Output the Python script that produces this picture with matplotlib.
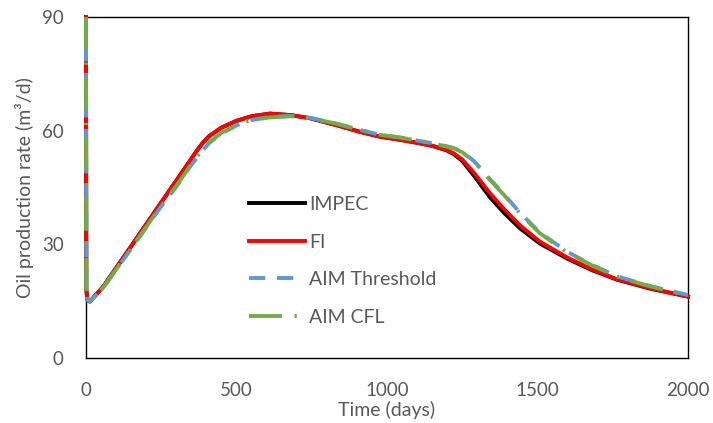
import matplotlib.pyplot as plt

# time (days) and oil production rate (m3/d) for each scheme
t = [0, 1, 5, 13, 57, 157, 246, 300, 345, 370, 390, 410, 450, 500, 550, 611, 680,
     744, 830, 910, 977, 1043, 1100, 1150, 1198, 1222, 1250, 1290, 1342, 1390,
     1442, 1508, 1597, 1680, 1763, 1874, 2000]
q_fi = [90, 18, 15.3, 14.9, 18.8, 30.3, 40.6, 46.8, 52.0, 54.9, 57.0, 58.6,
        60.8, 62.6, 63.8, 64.5, 64.1, 63.3, 61.5, 59.7, 58.4, 57.6, 56.8, 56.0,
        54.9, 54.0, 52.4, 48.8, 43.5, 39.2, 35.0, 30.7, 26.6, 23.4, 20.8, 18.4, 16.2]
q_impec = [90, 18, 15.3, 14.9, 18.8, 30.3, 40.6, 46.8, 52.0, 54.9, 57.0, 58.6,
           60.8, 62.6, 63.8, 64.5, 64.1, 63.3, 61.5, 59.7, 58.4, 57.6, 56.8, 56.0,
           54.8, 53.8, 52.0, 48.0, 42.4, 38.2, 34.2, 30.2, 26.3, 23.2, 20.7, 18.3, 16.2]
q_aim_thr = [90, 18, 15.3, 14.9, 18.5, 29.6, 39.6, 45.2, 50.4, 53.0, 55.0, 56.8,
             59.2, 61.4, 62.8, 63.6, 63.9, 63.4, 61.9, 60.2, 58.9, 58.2, 57.4,
             56.7, 55.9, 55.4, 54.4, 51.9, 47.2, 43.1, 38.3, 33.1, 28.1, 24.6,
             21.6, 19.0, 16.6]
q_aim_cfl = [90, 18, 15.3, 14.9, 18.6, 29.7, 39.8, 45.4, 50.6, 53.2, 55.2, 57.0,
             59.4, 61.5, 62.9, 63.5, 63.8, 63.3, 61.9, 60.2, 58.9, 58.2, 57.4,
             56.7, 55.8, 55.3, 54.3, 51.8, 47.0, 42.9, 38.1, 32.9, 27.9, 24.5,
             21.5, 18.9, 16.5]

labels = ['IMPEC', 'FI', 'AIM Threshold', 'AIM CFL']
colors = ['black', '#FF0000', '#5B9BD5', '#70AD47']

plt.rcParams['font.family'] = ['Lato', 'DejaVu Sans']
fs = 14
grey = '#595959'

fig = plt.figure(figsize=(7.13, 4.23), dpi=100)
ax = fig.add_axes([0.1206, 0.1537, 0.8444, 0.8061])

lw = 2.8
kw = dict(lw=lw, zorder=3, clip_on=False, solid_joinstyle='round')
ax.plot(t, q_impec, color=colors[0], label=labels[0], **kw)
ax.plot(t, q_fi, color=colors[1], label=labels[1], **kw)
ax.plot(t, q_aim_thr, color=colors[2], ls=(0, (4.2, 3.0)), label=labels[2], **kw)
ax.plot(t, q_aim_cfl, color=colors[3], ls=(0, (8.5, 3.2, 0.6, 3.2)),
        label=labels[3], **kw)

ax.set_xlim(0, 2000)
ax.set_ylim(0, 90)
ax.set_xticks([0, 500, 1000, 1500, 2000])
ax.set_yticks([0, 30, 60, 90])
ax.tick_params(length=0, labelsize=fs - 0.5, labelcolor=grey)
ax.tick_params(axis='x', pad=17.5)
ax.tick_params(axis='y', pad=16)
for s in ax.spines.values():
    s.set_color('black')
    s.set_linewidth(1.0)

ax.set_xlabel('Time (days)', fontsize=fs, color=grey, labelpad=1.5)
ax.set_ylabel('Oil production rate (m³/d)', fontsize=fs, color=grey, labelpad=6)

leg = ax.legend(loc='upper left', bbox_to_anchor=(0.349, 0.536),
                bbox_transform=fig.transFigure, frameon=False, fontsize=fs,
                handlelength=2.9, handletextpad=0.2, labelspacing=1.05,
                borderpad=0, borderaxespad=0)
for txt in leg.get_texts():
    txt.set_color(grey)

fig.savefig('out.png', dpi=100)
